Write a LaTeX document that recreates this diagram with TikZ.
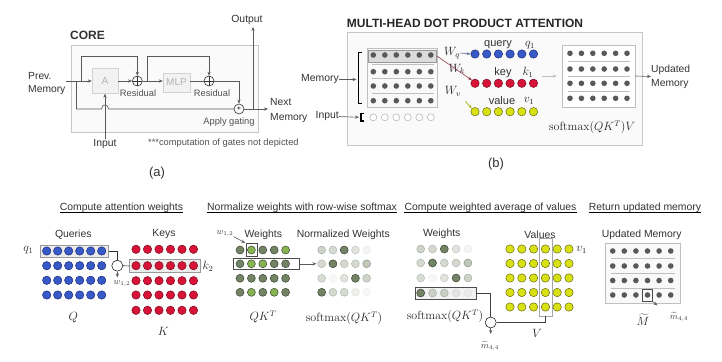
\documentclass[tikz,border=0pt]{standalone}
\usepackage[no-math]{fontspec}
\setmainfont{Liberation Sans}
\usetikzlibrary{arrows.meta,calc}
\newcommand\myfs[1]{\fontsize{#1}{#1}\selectfont}
\definecolor{txt}{RGB}{50,50,50}
\definecolor{lncol}{RGB}{90,90,90}
\definecolor{bluef}{RGB}{55,90,200}
\definecolor{blued}{RGB}{30,45,120}
\definecolor{redf}{RGB}{215,20,55}
\definecolor{redd}{RGB}{120,10,30}
\definecolor{yelf}{RGB}{215,225,20}
\definecolor{yeld}{RGB}{105,105,20}
\definecolor{wa}{RGB}{115,132,100}
\definecolor{wb}{RGB}{135,180,80}
\definecolor{wd}{RGB}{60,70,55}
\begin{document}
\begin{tikzpicture}[x=1pt,y=-1pt,
  ln/.style={draw=lncol, line width=0.6pt},
  arr/.style={draw=lncol, line width=0.6pt, -{Stealth[length=4pt,width=3.2pt]}},
  lab/.style={font=\myfs{10.4}, text=txt, inner sep=0},
  small/.style={font=\myfs{9.3}, text=txt!85, inner sep=0},
  head/.style={font=\myfs{10.4}, text=txt, inner sep=0},
  mth/.style={font=\myfs{12}, text=black!85, inner sep=0},
  smth/.style={font=\myfs{9}, text=black!75, inner sep=0},
  blk/.style={draw=gray!35, fill=gray!10, text=gray!60, font=\myfs{10}, inner sep=2pt},
  plusc/.style={circle, draw=black!80, line width=0.6pt, minimum size=10pt, inner sep=0,
    path picture={\draw[line width=0.6pt] (path picture bounding box.north) -- (path picture bounding box.south) (path picture bounding box.west) -- (path picture bounding box.east);}},
  odot/.style={circle, draw=black!85, line width=0.6pt, fill=white, minimum size=11pt, inner sep=0,
    path picture={\fill (path picture bounding box.center) circle (1.1pt);}},
  gatec/.style={circle, draw=black!80, line width=0.6pt, minimum size=10pt, inner sep=0, font=\myfs{8}},
  panel/.style={draw=gray!45, fill=gray!4, line width=0.7pt, inner sep=0},
  dotb/.style={circle, minimum size=8.4pt, inner sep=0, line width=0.5pt},
  bdot/.style={dotb, fill=bluef, draw=blued},
  rdot/.style={dotb, fill=redf, draw=redd},
  ydot/.style={dotb, fill=yelf, draw=yeld},
  wdot/.style={dotb, minimum size=8pt, draw=wd},
  mdot/.style={circle, minimum size=5.6pt, inner sep=0, fill=black!65},
  idot/.style={circle, minimum size=7pt, inner sep=0, draw=gray!55, line width=0.6pt, fill=white},
  hbox/.style={draw=gray!80, line width=0.6pt, fill=gray!18, inner sep=0},
  obox/.style={draw=black!70, line width=0.6pt, inner sep=0},
  sep/.style={draw=gray!50, line width=0.6pt}
]
\useasboundingbox (0,0) rectangle (722,361);

% ================= Panel (a) =================
\node[panel, minimum width=187pt, minimum height=87pt] (core) at (165,88.5) {};
\node[font=\myfs{12}\bfseries, text=txt, anchor=west, inner sep=0] (coret) at (70,35) {CORE};
\node[blk, minimum width=26pt, minimum height=25pt] (A) at (105,81) {A};
\node[blk, minimum width=27pt, minimum height=19pt] (MLP) at (176.5,82.5) {MLP};
\node[plusc] (p1) at (137.3,81) {};
\node[plusc] (p2) at (209,81) {};
\node[gatec] (g) at (239,109) {$\ast$};
\node[small] (r1) at (138,93.5) {Residual};
\node[small] (r2) at (212,93.5) {Residual};
\node[small] (ag) at (229,122.5) {Apply gating};
\node[inner sep=0, text=txt, align=left, anchor=west, font=\fontsize{10.3}{13}\selectfont] (pm) at (28,84) {Prev.\\Memory};
\coordinate (pmE) at (66,81);
\coordinate (j0) at (76.5,81);
\coordinate (j1) at (81,81);
\coordinate (j2) at (147,81);
\coordinate (j3) at (253,109);
\draw[arr] (pmE) -- (A.west);
\draw[ln] (j0) -- (76.5,109) -- (101.5,109) .. controls (101.5,103.5) and (108.5,103.5) .. (108.5,109) -- (g.west);
\draw[arr] (j1) -- (81,56) -| (p1.north);
\draw[arr] (A.east) -- (p1.west);
\draw[arr] (p1.east) -- (MLP.west |- p1);
\draw[arr] (j2) -- (147,56) -| (p2.north);
\draw[ln] (MLP.east |- p2) -- (p2.west);
\draw[arr] (p2.east) -| (g.north);
\node[lab] (inp) at (105,144) {Input};
\draw[arr] (inp.north) -- (A.south);
\node[inner sep=0, text=txt, align=left, anchor=west, font=\fontsize{10.3}{14.5}\selectfont] (nm) at (270,110.5) {Next\\Memory};
\draw[arr, shorten >=2pt] (g.east) -- (nm.west |- g);
\node[lab] (out) at (247,20) {Output};
\draw[arr, shorten >=2pt] (j3) -- (j3 |- out.south);
\node[small, anchor=west] (note) at (148,143) {***computation of gates not depicted};
\node[font=\myfs{13}, text=txt, inner sep=0] (la) at (157,173) {(a)};

% ================= Panel (b) =================
\node[font=\myfs{12}\bfseries, text=black!85, inner sep=0] (btitle) at (465,23) {MULTI-HEAD DOT PRODUCT ATTENTION};
\node[panel, minimum width=295pt, minimum height=113pt] (bbox) at (494.5,88.5) {};
\node[draw=gray!50, fill=gray!5, line width=0.6pt, minimum width=70pt, minimum height=59pt, inner sep=0] (mem) at (402,77.5) {};
\node[hbox, fill=gray!28, minimum width=68pt, minimum height=12pt] (mrow) at (402.5,56) {};
\foreach \y in {64,78.5,93.3} \draw[sep] (372,\y) -- (434,\y);
\foreach \y [count=\r] in {55,71.7,86,100.7}
  \foreach \c in {0,...,5}
    \node[mdot] (m-\r-\c) at ({373.3+11.5*\c},\y) {};
\foreach \c in {0,...,5}
  \node[idot] (i-\c) at ({373.3+11.5*\c},117.3) {};
\draw[black, line width=1pt] (362,53) -- (358.5,53) -- (358.5,103) -- (362,103);
\coordinate (brk) at (356.5,79.5);
\node[lab, anchor=east] (memlab) at (339,79.5) {Memory};
\draw[arr] (memlab.east) -- (brk);
\draw[black, line width=1.1pt] (364,113.5) -- (361,113.5) -- (361,121) -- (364,121);
\coordinate (ibrk) at (359,117.3);
\node[lab, anchor=east] (inlab) at (339,116.5) {Input};
\draw[arr] (inlab.east) -- (ibrk);

\node[mth] (Wq) at (452,53) {$W_q$};
\node[mth] (Wk) at (457,69) {$W_k$};
\node[mth] (Wv) at (453,91.7) {$W_v$};
\foreach \c in {0,...,5} {
  \node[bdot] (bq-\c) at ({475+11.7*\c},54) {};
  \node[rdot] (bk-\c) at ({475+11.7*\c},83.3) {};
  \node[ydot] (bv-\c) at ({475+11.7*\c},111.7) {};
}
\node[lab, font=\myfs{11}] (tq) at (498,45) {query};
\node[mth] (lq1) at (530,45.5) {$q_1$};
\node[lab, font=\myfs{11}] (tk) at (503,72.5) {key};
\node[mth] (lk1) at (528,72.5) {$k_1$};
\node[lab, font=\myfs{11}] (tv) at (502,101) {value};
\node[mth] (lv1) at (529,101) {$v_1$};
\draw[-{Stealth[length=4pt,width=3pt]}, blued!70, line width=0.6pt] (Wq.east) -- (bq-0.west);
\draw[-{Stealth[length=4pt,width=3pt]}, redd!80, line width=0.6pt] (mrow.east) -- (bk-0.north west);
\draw[-{Stealth[length=4pt,width=3pt]}, yelf!80!black, line width=0.7pt, shorten <=6pt] (Wv.south east) -- (bv-0.north west);

\node[draw=gray!50, fill=white, line width=0.6pt, minimum width=73pt, minimum height=62pt, inner sep=0] (outm) at (598.5,76) {};
\foreach \y in {61.5,76.5,91} \draw[sep] (568,\y) -- (630,\y);
\foreach \y [count=\r] in {53.3,69,83.3,98.3}
  \foreach \c in {0,...,5}
    \node[mdot] (o-\r-\c) at ({570+11.4*\c},\y) {};
\coordinate (ga) at (542,76);
\draw[arr, draw=gray!50, shorten >=5pt] (ga) -- (outm.west |- ga);
\node[mth] (smv) at (592,127) {$\mathrm{softmax}(QK^T)V$};
\node[inner sep=0, text=txt, align=left, anchor=west, font=\fontsize{10.3}{14}\selectfont] (updm) at (651,76.5) {Updated\\Memory};
\draw[arr] (outm.east) -- (updm.west);
\node[font=\myfs{13}, text=txt, inner sep=0] (lb) at (496,164) {(b)};

% ================= Bottom headings =================
\node[head] (h1) at (121.5,207.7) {Compute attention weights};
\node[head] (h2) at (302,208) {Normalize weights with row-wise softmax};
\node[head] (h3) at (490.5,208) {Compute weighted average of values};
\node[head] (h4) at (645,208) {Return updated memory};
\foreach \h in {h1,h2,h3,h4}
  \draw[black, line width=0.6pt] ([yshift=-2pt]\h.base west) -- ([yshift=-2pt]\h.base east);

% ----- section 1 -----
\node[lab] (tQ) at (73.3,234.3) {Queries};
\node[lab] (tK) at (164,234.3) {Keys};
\node[hbox, fill=gray!15, minimum width=68pt, minimum height=12pt] (qbox) at (74.2,250.9) {};
\node[hbox, fill=gray!15, minimum width=71pt, minimum height=12.5pt] (kbox) at (165,266) {};
\foreach \y [count=\r] in {251,265.7,280.3,295}
  \foreach \c in {0,...,5}
    \node[bdot] (q-\r-\c) at ({46.7+11*\c},\y) {};
\foreach \y [count=\r] in {249.3,265.7,280.7,295,310.3}
  \foreach \c in {0,...,5}
    \node[rdot] (k-\r-\c) at ({136+11.5*\c},\y) {};
\node[mth] (lq) at (28.3,250) {$q_1$};
\node[mth] (lk2) at (208,266.5) {$k_2$};
\node[odot] (dop) at (117.3,265.7) {};
\draw[ln, draw=black!80] (qbox.east) -| (dop.north);
\draw[ln, draw=black!80] (dop.east) -- (kbox.west);
\coordinate (wa1) at (117.3,277.5);
\draw[arr, shorten <=0.5pt] (dop.south) -- (wa1);
\node[smth] (lw) at (122,284) {$w_{1,2}$};
\node[mth, font=\myfs{13}] (lQ) at (73.3,317.7) {$Q$};
\node[mth, font=\myfs{13}] (lK) at (163.3,331.7) {$K$};

% ----- section 2 -----
\node[smth] (lw2) at (225,233.3) {$w_{1,2}$};
\node[lab] (tW) at (263.3,235) {Weights};
\node[lab] (tNW) at (343.3,235) {Normalized Weights};
\node[obox, minimum width=66pt, minimum height=11.5pt] (rowb) at (266.3,263.8) {};
\foreach \y/\cols [count=\r] in {250/{a,b,a,a,b},263.8/{a,b,b,a,a},278.3/{a,a,a,a,a},292.3/{a,b,a,b,a}}
  \foreach \cl [count=\c from 0] in \cols
    \node[wdot, fill=w\cl] (w-\r-\c) at ({240+11.4*\c},\y) {};
\node[obox, minimum width=11pt, minimum height=12.5pt] (sb) at (251.4,249.7) {};
\draw[arr, shorten >=0.5pt] (lw2.south east) -- (sb.north west);
\foreach \y/\ops [count=\r] in {250/{.35,.3,1,.22,.08},263.8/{.3,1,.3,.3,.45},278.3/{.28,.06,.22,1,.35},292.3/{1,.3,.3,.12,.06}}
  \foreach \o [count=\c from 0] in \ops
    \node[wdot, fill=wa, fill opacity=\o, draw opacity=\o] (n-\r-\c) at ({321.7+11.25*\c},\y) {};
\draw[arr, shorten >=1pt] (rowb.east) -- (n-2-0.west);
\node[mth] (lQK) at (263,317) {$QK^T$};
\node[mth] (lsm) at (344,318) {$\mathrm{softmax}(QK^T)$};

% ----- section 3 -----
\node[lab] (tW3) at (441.7,234.3) {Weights};
\node[lab] (tV) at (540,234.3) {Values};
\node[hbox, draw=black!70, fill=gray!10, minimum width=61pt, minimum height=11.5pt] (rb4) at (445.5,293.3) {};
\foreach \y/\ops [count=\r] in {249/{.35,.3,1,.22,.08},263/{.3,1,.3,.3,.45},278/{.28,.06,.22,1,.35},293/{1,.3,.3,.12,.06}}
  \foreach \o [count=\c from 0] in \ops
    \node[wdot, fill=wa, fill opacity=\o, draw opacity=\o] (s-\r-\c) at ({420.7+11.8*\c},\y) {};
\foreach \y [count=\r] in {249,263.5,278,292.5,307}
  \foreach \c in {0,...,5}
    \node[ydot] (v-\r-\c) at ({510+11.8*\c},\y) {};
\node[draw=gray!70, line width=0.7pt, minimum width=13pt, minimum height=78pt, inner sep=0] (vbox) at (545.4,277) {};
\node[odot] (dop2) at (490.7,322.5) {};
\draw[ln, draw=black!75] (rb4.east) -| (dop2.north);
\draw[ln, draw=black!75] (dop2.east) -| (vbox.south);
\coordinate (wa2) at (490.7,334);
\draw[arr] (dop2.south) -- (wa2);
\node[smth] (lm) at (490,346) {$\widetilde{m}_{4,4}$};
\node[mth] (lsm2) at (445,316) {$\mathrm{softmax}(QK^T)$};
\node[mth] (lV) at (537,333) {$V$};
\node[mth] (lv) at (581.7,250) {$v_1$};

% ----- section 4 -----
\node[lab] (tUM) at (641.7,235) {Updated Memory};
\node[draw=gray!50, fill=gray!5, line width=0.6pt, minimum width=75pt, minimum height=59.5pt, inner sep=0] (um) at (642.5,273.3) {};
\foreach \y in {258.5,273,288} \draw[sep] (611,\y) -- (675,\y);
\foreach \y [count=\r] in {251,266,280.5,295}
  \foreach \c in {0,...,5}
    \node[mdot] (u-\r-\c) at ({612.7+11.6*\c},\y) {};
\node[obox, minimum width=10.5pt, minimum height=12pt] (ub) at (647.5,295.5) {};
\coordinate (ua) at (657.5,305.5);
\draw[arr, shorten <=0pt] (ub.south east) -- (ua);
\node[mth, font=\myfs{13}] (lM) at (643,320) {$\widetilde{M}$};
\node[smth] (lm2) at (679,317) {$\widetilde{m}_{4,4}$};
\end{tikzpicture}
\end{document}
